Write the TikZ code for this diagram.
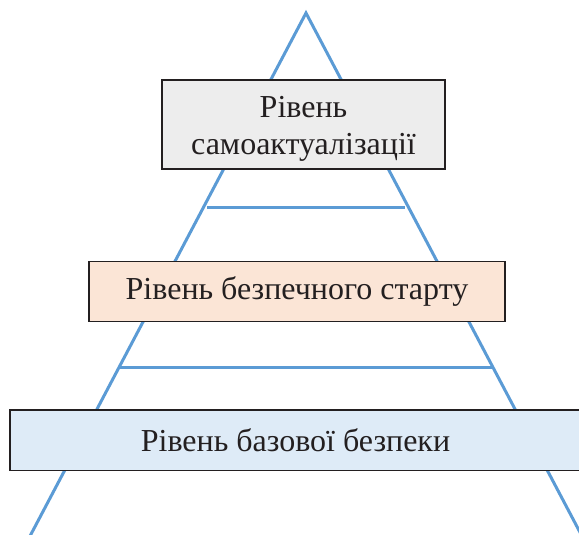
\documentclass[tikz,border=0pt]{standalone}
\usepackage{fontspec}
\setmainfont{Liberation Serif}
\definecolor{pyrblue}{HTML}{5B9BD5}
\definecolor{boxline}{HTML}{231F20}
\definecolor{txtcol}{HTML}{231F20}
\definecolor{fillgray}{HTML}{EDEDED}
\definecolor{fillpeach}{HTML}{FBE5D6}
\definecolor{fillblue}{HTML}{DEEBF7}
\begin{document}
\begin{tikzpicture}[x=1pt,y=-1pt,
  edge/.style={draw=pyrblue,line width=3pt},
  levelbox/.style={draw=boxline,line width=1.5pt,inner sep=0pt,align=center,
    text=txtcol,font=\fontsize{32}{37}\selectfont},
  leveltext/.style={inner sep=0pt,align=center,text=txtcol,font=\fontsize{32}{37}\selectfont}]
\useasboundingbox (0,0) rectangle (579,535);
\coordinate (apex) at (306,13);
\coordinate (bl) at (29,538);
\coordinate (br) at (583,538);
\draw[edge,line join=miter] (bl) -- (apex) -- (br);
\coordinate (h1l) at (207,207);
\coordinate (h1r) at (405,207);
\coordinate (h2l) at (119,367);
\coordinate (h2r) at (494,367);
\draw[edge] (h1l) -- (h1r);
\draw[edge] (h2l) -- (h2r);
\node[levelbox,fill=fillgray,minimum width=283pt,minimum height=89pt] (top) at (303.5,124.5) {};
\node[leveltext,yshift=-4pt] (toptext) at (top.center) {Рівень\\самоактуалізації};
\node[levelbox,fill=fillpeach,minimum width=416pt,minimum height=60pt] (mid) at (297,291.7) {Рівень безпечного старту};
\node[levelbox,fill=fillblue,minimum width=571pt,minimum height=60.5pt] (base) at (295.5,440) {Рівень базової безпеки};
\end{tikzpicture}
\end{document}
